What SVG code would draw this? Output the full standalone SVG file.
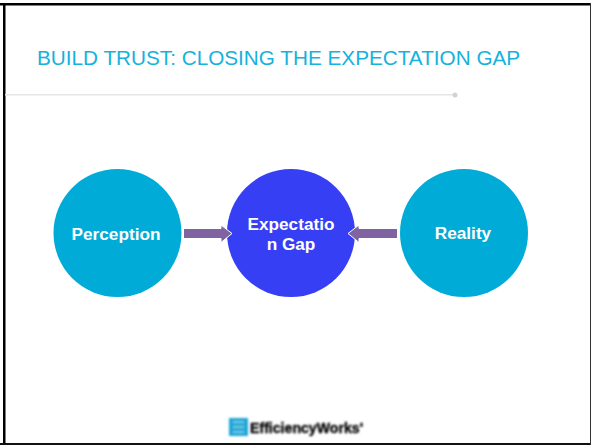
<svg xmlns="http://www.w3.org/2000/svg" width="591" height="445" viewBox="0 0 591 445">
<defs>
<style>
.t{font-family:"Liberation Sans",Arial,sans-serif;font-weight:700;font-size:17.2px;fill:#fff;text-anchor:middle}
.arrow{fill:#8064a2;stroke:#fff;stroke-width:1}
</style>
<filter id="soft" filterUnits="userSpaceOnUse" x="222" y="410" width="148" height="32"><feGaussianBlur stdDeviation="0.8"/></filter>
</defs>
<rect x="0" y="0" width="591" height="445" fill="#fff"/>
<rect x="0" y="3" width="591" height="2.500" fill="#000"/>
<rect x="3" y="3" width="2.500" height="442" fill="#000"/>
<rect x="0" y="443" width="591" height="2" fill="#111"/>
<rect x="590" y="3" width="1" height="442" fill="#333"/>
<text x="37" y="65" font-family="'Liberation Sans',Arial,sans-serif" font-size="20.730" fill="#14b2dc">BUILD TRUST: CLOSING THE EXPECTATION GAP</text>
<g id="rule">
<rect x="5" y="94" width="449" height="1.500" fill="#e6e6e6"/>
<circle cx="455" cy="95" r="2.500" fill="#d2d2d2"/>
</g>
<g id="perception">
<circle cx="117.500" cy="233" r="64" fill="#00acd7"/>
<text class="t" x="116" y="240">Perception</text>
</g>
<g id="expectation-gap">
<circle cx="291" cy="233" r="64" fill="#363ff3"/>
<text class="t" x="291" y="230">Expectatio</text>
<text class="t" x="291" y="250">n Gap</text>
</g>
<g id="reality">
<circle cx="464" cy="233" r="64" fill="#00acd7"/>
<text class="t" x="463" y="239">Reality</text>
</g>
<g id="connectors">
<path class="arrow" d="M183.500 228.500H221V225L232 233.500L221 242.500V238.500H183.500Z"/>
<path class="arrow" d="M397.500 228.500H359V225L348 233.500L359 242.500V238.500H397.500Z"/>
</g>
<g id="logo" filter="url(#soft)">
<rect x="229" y="418" width="19" height="18" fill="#1aa7d8"/>
<path d="M233 422H244M233 427H244M233 432H244" stroke="#bfe6f3" stroke-width="1" fill="none"/>
<text x="250" y="433" font-family="'Liberation Sans',Arial,sans-serif" font-weight="700" font-size="15" textLength="113" lengthAdjust="spacingAndGlyphs" fill="#000" stroke="#000" stroke-width="0.4">EfficiencyWorks'</text>
</g>
</svg>
